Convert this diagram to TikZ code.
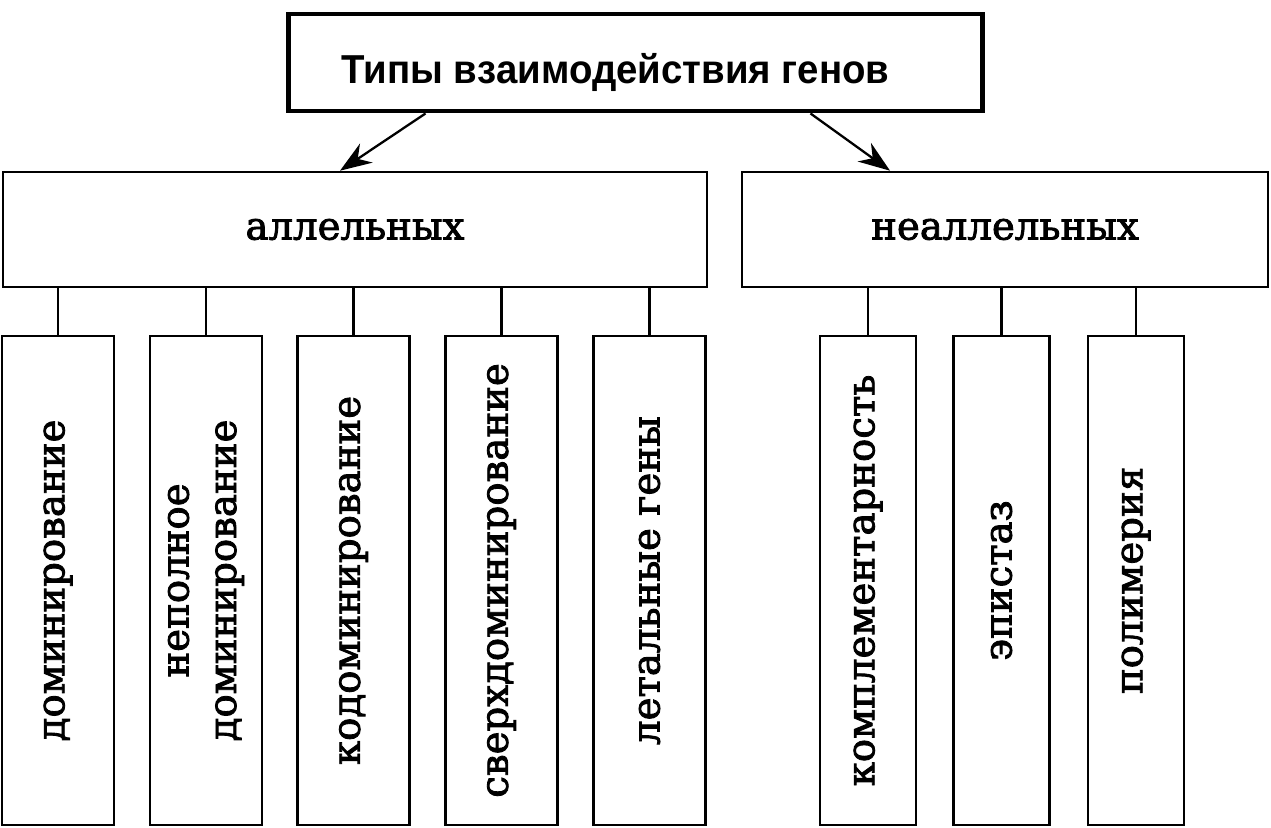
\documentclass[tikz,border=0pt]{standalone}
\usepackage{fontspec}
\setmainfont{DejaVu Serif}
\newfontfamily\kindfont{DejaVu Serif}[FakeBold=2.2]
\newfontfamily\headfont{Liberation Sans}
\usepackage{tikz}
\usetikzlibrary{arrows.meta}

\begin{document}
\begin{tikzpicture}[x=0.02cm,y=-0.02cm,
    headbox/.style={draw,line width=2.8pt,minimum width=13.9cm,minimum height=1.94cm},
    headtext/.style={font=\headfont\bfseries\fontsize{23}{27}\selectfont},
    groupbox/.style={draw,line width=1.5pt,minimum height=2.3cm,
      font=\kindfont\fontsize{22}{26}\selectfont},
    kindbox/.style={draw,line width=1.5pt,minimum height=9.78cm},
    kindtext/.style={rotate=90,align=center,font=\kindfont\fontsize{22}{27}\selectfont},
    link/.style={line width=1.2pt}]
  \useasboundingbox (0,0) rectangle (1271,828);

  % top box and the two groups
  \node[headbox] (types) at (635.5,62.5) {};
  \node[headtext,xscale=0.95] (types-t) at ([xshift=-0.4cm,yshift=-0.2cm]types.center)
    {Типы взаимодействия генов};
  \node[groupbox,minimum width=14.08cm] (allel) at (355,229.5) {аллельных};
  \node[groupbox,minimum width=10.52cm] (nonallel) at (1005,229.5) {неаллельных};

  \draw[-{Stealth[length=18pt,width=13pt]},line width=1.3pt]
    ([xshift=-4.2cm]types.south) -- ([xshift=-0.3cm]allel.north);
  \draw[-{Stealth[length=18pt,width=13pt]},line width=1.3pt]
    ([xshift=3.5cm]types.south) -- ([xshift=-2.3cm]nonallel.north);

  % allelic kinds
  \foreach \cx/\name/\txt in {58/dom/доминирование,
                              206/incdom/{неполное\\доминирование},
                              353.5/codom/кодоминирование,
                              501.5/overdom/сверхдоминирование,
                              649.5/lethal/летальные гены} {
    \node[kindbox,minimum width=2.24cm] (\name) at (\cx,580.5) {};
    \node[kindtext] (\name-t) at (\name) {\txt};
    \draw[link] (\name.north) -- (\name.north |- allel.south);
  }

  % non-allelic kinds
  \foreach \cx/\name/\txt in {868/compl/комплементарность,
                              1001.5/epist/эпистаз,
                              1136/polym/полимерия} {
    \node[kindbox,minimum width=1.92cm] (\name) at (\cx,580.5) {};
    \node[kindtext] (\name-t) at (\name) {\txt};
    \draw[link] (\name.north) -- (\name.north |- nonallel.south);
  }
\end{tikzpicture}
\end{document}
